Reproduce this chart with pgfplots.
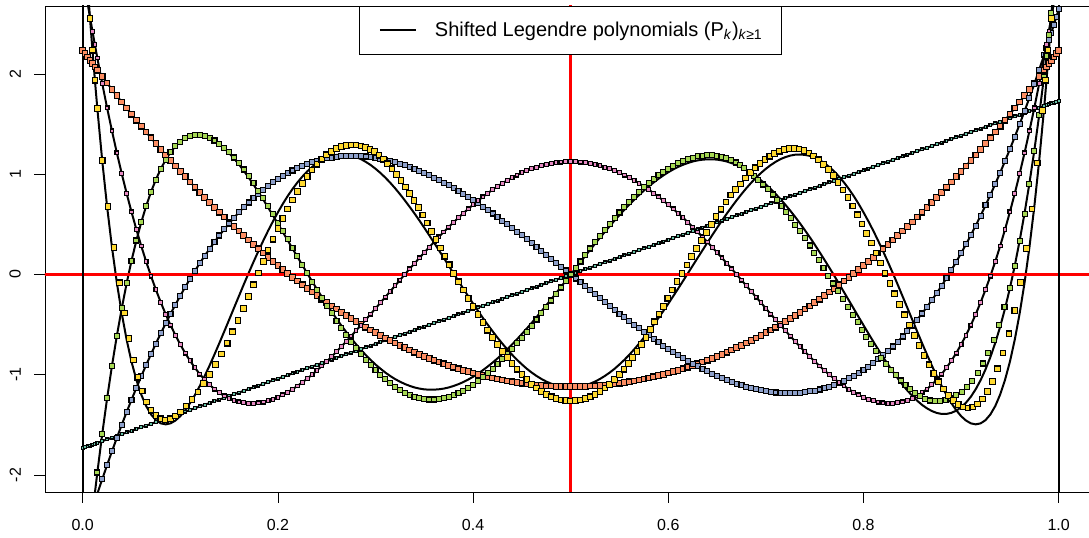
\documentclass[border=0pt]{standalone}
\usepackage{fontspec}
\setmainfont{Liberation Sans}
\usepackage{pgfplots}
\usepackage{pgfplotstable}
\pgfplotsset{compat=1.18}

\definecolor{sTeal}{HTML}{66C2A5}
\definecolor{sOrange}{HTML}{FC8D62}
\definecolor{sBlue}{HTML}{8DA0CB}
\definecolor{sPink}{HTML}{E78AC3}
\definecolor{sGreen}{HTML}{A6D854}
\definecolor{sYellow}{HTML}{FFD92F}

% shifted Legendre polynomials sqrt(2k+1) P_k(2x-1), k = 1..6
\pgfplotstableread{
x p1 p2 p3 p4 p5 p6
0 -1.732 2.236 -2.646 3.000 -3.317 3.606
0.0025 -1.723 2.203 -2.567 2.852 -3.072 3.236
0.005 -1.715 2.169 -2.489 2.707 -2.836 2.885
0.0075 -1.706 2.136 -2.412 2.565 -2.609 2.552
0.01 -1.697 2.103 -2.336 2.427 -2.390 2.237
0.0125 -1.689 2.070 -2.261 2.291 -2.178 1.938
0.015 -1.680 2.038 -2.187 2.159 -1.975 1.655
0.02 -1.663 1.973 -2.042 1.905 -1.591 1.136
0.025 -1.645 1.909 -1.901 1.662 -1.236 0.676
0.03 -1.628 1.846 -1.763 1.432 -0.910 0.271
0.035 -1.611 1.783 -1.630 1.213 -0.611 -0.083
0.04 -1.593 1.721 -1.499 1.006 -0.338 -0.388
0.045 -1.576 1.660 -1.373 0.809 -0.089 -0.650
0.05 -1.559 1.599 -1.250 0.624 0.137 -0.870
0.055 -1.542 1.539 -1.131 0.449 0.339 -1.051
0.06 -1.524 1.479 -1.015 0.284 0.521 -1.198
0.065 -1.507 1.421 -0.903 0.129 0.682 -1.312
0.07 -1.490 1.363 -0.794 -0.016 0.824 -1.396
0.075 -1.472 1.305 -0.689 -0.152 0.947 -1.453
0.08 -1.455 1.249 -0.587 -0.278 1.054 -1.485
0.085 -1.438 1.193 -0.488 -0.396 1.144 -1.495
0.09 -1.420 1.137 -0.393 -0.505 1.219 -1.485
0.095 -1.403 1.083 -0.301 -0.606 1.279 -1.457
0.10 -1.386 1.029 -0.212 -0.699 1.325 -1.413
0.105 -1.368 0.975 -0.126 -0.784 1.359 -1.354
0.11 -1.351 0.923 -0.043 -0.861 1.380 -1.283
0.115 -1.334 0.871 0.036 -0.931 1.391 -1.202
0.12 -1.316 0.819 0.113 -0.994 1.391 -1.111
0.125 -1.299 0.769 0.186 -1.050 1.381 -1.012
0.13 -1.282 0.719 0.256 -1.100 1.362 -0.908
0.135 -1.264 0.669 0.324 -1.143 1.335 -0.798
0.14 -1.247 0.621 0.389 -1.180 1.301 -0.685
0.145 -1.230 0.573 0.450 -1.211 1.259 -0.569
0.15 -1.212 0.525 0.509 -1.236 1.211 -0.452
0.155 -1.195 0.479 0.565 -1.256 1.158 -0.334
0.16 -1.178 0.433 0.619 -1.271 1.099 -0.217
0.165 -1.160 0.388 0.670 -1.280 1.035 -0.100
0.17 -1.143 0.343 0.718 -1.285 0.968 0.014
0.175 -1.126 0.299 0.763 -1.285 0.897 0.125
0.18 -1.109 0.256 0.806 -1.281 0.823 0.233
0.185 -1.091 0.213 0.846 -1.273 0.747 0.337
0.19 -1.074 0.171 0.884 -1.260 0.668 0.437
0.195 -1.057 0.130 0.920 -1.244 0.588 0.531
0.20 -1.039 0.089 0.952 -1.224 0.506 0.620
0.205 -1.022 0.050 0.983 -1.201 0.424 0.704
0.21 -1.005 0.010 1.011 -1.174 0.341 0.782
0.215 -0.987 -0.028 1.037 -1.145 0.258 0.853
0.22 -0.970 -0.066 1.061 -1.112 0.176 0.918
0.225 -0.953 -0.103 1.082 -1.077 0.094 0.976
0.23 -0.935 -0.140 1.102 -1.039 0.012 1.028
0.235 -0.918 -0.176 1.119 -1.000 -0.068 1.072
0.24 -0.901 -0.211 1.134 -0.957 -0.146 1.111
0.245 -0.883 -0.246 1.147 -0.913 -0.223 1.141
0.25 -0.866 -0.280 1.158 -0.867 -0.298 1.165
0.255 -0.849 -0.313 1.166 -0.820 -0.371 1.183
0.26 -0.831 -0.345 1.173 -0.770 -0.441 1.193
0.265 -0.814 -0.377 1.179 -0.720 -0.509 1.197
0.27 -0.797 -0.408 1.182 -0.668 -0.574 1.195
0.275 -0.779 -0.439 1.183 -0.615 -0.636 1.186
0.28 -0.762 -0.469 1.183 -0.561 -0.695 1.171
0.285 -0.745 -0.498 1.181 -0.506 -0.751 1.151
0.29 -0.727 -0.526 1.177 -0.451 -0.803 1.124
0.295 -0.710 -0.554 1.171 -0.395 -0.852 1.092
0.30 -0.693 -0.581 1.164 -0.339 -0.898 1.055
0.305 -0.675 -0.608 1.155 -0.282 -0.939 1.013
0.31 -0.658 -0.634 1.145 -0.226 -0.978 0.967
0.315 -0.641 -0.659 1.133 -0.169 -1.012 0.916
0.32 -0.624 -0.683 1.120 -0.113 -1.043 0.861
0.325 -0.606 -0.707 1.105 -0.056 -1.069 0.802
0.33 -0.589 -0.730 1.089 0.000 -1.092 0.740
0.335 -0.572 -0.753 1.072 0.056 -1.111 0.675
0.34 -0.554 -0.775 1.053 0.111 -1.127 0.608
0.345 -0.537 -0.796 1.033 0.165 -1.138 0.538
0.35 -0.520 -0.816 1.012 0.219 -1.146 0.466
0.355 -0.502 -0.836 0.990 0.272 -1.149 0.392
0.36 -0.485 -0.855 0.966 0.324 -1.149 0.317
0.365 -0.468 -0.874 0.941 0.375 -1.145 0.241
0.37 -0.450 -0.891 0.916 0.424 -1.138 0.165
0.375 -0.433 -0.908 0.889 0.473 -1.127 0.088
0.38 -0.416 -0.925 0.861 0.521 -1.112 0.011
0.385 -0.398 -0.941 0.832 0.567 -1.094 -0.066
0.39 -0.381 -0.956 0.803 0.611 -1.073 -0.142
0.395 -0.364 -0.970 0.772 0.654 -1.048 -0.217
0.40 -0.346 -0.984 0.741 0.696 -1.020 -0.291
0.405 -0.329 -0.997 0.709 0.736 -0.989 -0.363
0.41 -0.312 -1.009 0.676 0.774 -0.955 -0.433
0.415 -0.294 -1.021 0.642 0.811 -0.918 -0.501
0.42 -0.277 -1.032 0.608 0.846 -0.879 -0.567
0.425 -0.260 -1.043 0.573 0.879 -0.837 -0.630
0.43 -0.242 -1.052 0.537 0.910 -0.792 -0.690
0.435 -0.225 -1.061 0.501 0.939 -0.746 -0.747
0.44 -0.208 -1.070 0.465 0.966 -0.697 -0.801
0.445 -0.191 -1.077 0.428 0.991 -0.646 -0.851
0.45 -0.173 -1.084 0.390 1.014 -0.593 -0.897
0.455 -0.156 -1.091 0.352 1.035 -0.539 -0.940
0.46 -0.139 -1.097 0.314 1.054 -0.483 -0.978
0.465 -0.121 -1.102 0.276 1.070 -0.425 -1.012
0.47 -0.104 -1.106 0.237 1.085 -0.367 -1.042
0.475 -0.087 -1.110 0.198 1.097 -0.307 -1.068
0.48 -0.069 -1.113 0.158 1.107 -0.247 -1.089
0.485 -0.052 -1.115 0.119 1.115 -0.186 -1.106
0.49 -0.035 -1.117 0.079 1.121 -0.124 -1.117
0.495 -0.017 -1.118 0.040 1.124 -0.062 -1.124
0.50 0.000 -1.118 0.000 1.125 0.000 -1.127
0.505 0.017 -1.118 -0.040 1.124 0.062 -1.124
0.51 0.035 -1.117 -0.079 1.121 0.124 -1.117
0.515 0.052 -1.115 -0.119 1.115 0.186 -1.106
0.52 0.069 -1.113 -0.158 1.107 0.247 -1.089
0.525 0.087 -1.110 -0.198 1.097 0.307 -1.068
0.53 0.104 -1.106 -0.237 1.085 0.367 -1.042
0.535 0.121 -1.102 -0.276 1.070 0.425 -1.012
0.54 0.139 -1.097 -0.314 1.054 0.483 -0.978
0.545 0.156 -1.091 -0.352 1.035 0.539 -0.940
0.55 0.173 -1.084 -0.390 1.014 0.593 -0.897
0.555 0.191 -1.077 -0.428 0.991 0.646 -0.851
0.56 0.208 -1.070 -0.465 0.966 0.697 -0.801
0.565 0.225 -1.061 -0.501 0.939 0.746 -0.747
0.57 0.242 -1.052 -0.537 0.910 0.792 -0.690
0.575 0.260 -1.043 -0.573 0.879 0.837 -0.630
0.58 0.277 -1.032 -0.608 0.846 0.879 -0.567
0.585 0.294 -1.021 -0.642 0.811 0.918 -0.501
0.59 0.312 -1.009 -0.676 0.774 0.955 -0.433
0.595 0.329 -0.997 -0.709 0.736 0.989 -0.363
0.60 0.346 -0.984 -0.741 0.696 1.020 -0.291
0.605 0.364 -0.970 -0.772 0.654 1.048 -0.217
0.61 0.381 -0.956 -0.803 0.611 1.073 -0.142
0.615 0.398 -0.941 -0.832 0.567 1.094 -0.066
0.62 0.416 -0.925 -0.861 0.521 1.112 0.011
0.625 0.433 -0.908 -0.889 0.473 1.127 0.088
0.63 0.450 -0.891 -0.916 0.424 1.138 0.165
0.635 0.468 -0.874 -0.941 0.375 1.145 0.241
0.64 0.485 -0.855 -0.966 0.324 1.149 0.317
0.645 0.502 -0.836 -0.990 0.272 1.149 0.392
0.65 0.520 -0.816 -1.012 0.219 1.146 0.466
0.655 0.537 -0.796 -1.033 0.165 1.138 0.538
0.66 0.554 -0.775 -1.053 0.111 1.127 0.608
0.665 0.572 -0.753 -1.072 0.056 1.111 0.675
0.67 0.589 -0.730 -1.089 0.000 1.092 0.740
0.675 0.606 -0.707 -1.105 -0.056 1.069 0.802
0.68 0.624 -0.683 -1.120 -0.113 1.043 0.861
0.685 0.641 -0.659 -1.133 -0.169 1.012 0.916
0.69 0.658 -0.634 -1.145 -0.226 0.978 0.967
0.695 0.675 -0.608 -1.155 -0.282 0.939 1.013
0.70 0.693 -0.581 -1.164 -0.339 0.898 1.055
0.705 0.710 -0.554 -1.171 -0.395 0.852 1.092
0.71 0.727 -0.526 -1.177 -0.451 0.803 1.124
0.715 0.745 -0.498 -1.181 -0.506 0.751 1.151
0.72 0.762 -0.469 -1.183 -0.561 0.695 1.171
0.725 0.779 -0.439 -1.183 -0.615 0.636 1.186
0.73 0.797 -0.408 -1.182 -0.668 0.574 1.195
0.735 0.814 -0.377 -1.179 -0.720 0.509 1.197
0.74 0.831 -0.345 -1.173 -0.770 0.441 1.193
0.745 0.849 -0.313 -1.166 -0.820 0.371 1.183
0.75 0.866 -0.280 -1.158 -0.867 0.298 1.165
0.755 0.883 -0.246 -1.147 -0.913 0.223 1.141
0.76 0.901 -0.211 -1.134 -0.957 0.146 1.111
0.765 0.918 -0.176 -1.119 -1.000 0.068 1.072
0.77 0.935 -0.140 -1.102 -1.039 -0.012 1.028
0.775 0.953 -0.103 -1.082 -1.077 -0.094 0.976
0.78 0.970 -0.066 -1.061 -1.112 -0.176 0.918
0.785 0.987 -0.028 -1.037 -1.145 -0.258 0.853
0.79 1.005 0.010 -1.011 -1.174 -0.341 0.782
0.795 1.022 0.050 -0.983 -1.201 -0.424 0.704
0.80 1.039 0.089 -0.952 -1.224 -0.506 0.620
0.805 1.057 0.130 -0.920 -1.244 -0.588 0.531
0.81 1.074 0.171 -0.884 -1.260 -0.668 0.437
0.815 1.091 0.213 -0.846 -1.273 -0.747 0.337
0.82 1.109 0.256 -0.806 -1.281 -0.823 0.233
0.825 1.126 0.299 -0.763 -1.285 -0.897 0.125
0.83 1.143 0.343 -0.718 -1.285 -0.968 0.014
0.835 1.160 0.388 -0.670 -1.280 -1.035 -0.100
0.84 1.178 0.433 -0.619 -1.271 -1.099 -0.217
0.845 1.195 0.479 -0.565 -1.256 -1.158 -0.334
0.85 1.212 0.525 -0.509 -1.236 -1.211 -0.452
0.855 1.230 0.573 -0.450 -1.211 -1.259 -0.569
0.86 1.247 0.621 -0.389 -1.180 -1.301 -0.685
0.865 1.264 0.669 -0.324 -1.143 -1.335 -0.798
0.87 1.282 0.719 -0.256 -1.100 -1.362 -0.908
0.875 1.299 0.769 -0.186 -1.050 -1.381 -1.012
0.88 1.316 0.819 -0.113 -0.994 -1.391 -1.111
0.885 1.334 0.871 -0.036 -0.931 -1.391 -1.202
0.89 1.351 0.923 0.043 -0.861 -1.380 -1.283
0.895 1.368 0.975 0.126 -0.784 -1.359 -1.354
0.90 1.386 1.029 0.212 -0.699 -1.325 -1.413
0.905 1.403 1.083 0.301 -0.606 -1.279 -1.457
0.91 1.420 1.137 0.393 -0.505 -1.219 -1.485
0.915 1.438 1.193 0.488 -0.396 -1.144 -1.495
0.92 1.455 1.249 0.587 -0.278 -1.054 -1.485
0.925 1.472 1.305 0.689 -0.152 -0.947 -1.453
0.93 1.490 1.363 0.794 -0.016 -0.824 -1.396
0.935 1.507 1.421 0.903 0.129 -0.682 -1.312
0.94 1.524 1.479 1.015 0.284 -0.521 -1.198
0.945 1.542 1.539 1.131 0.449 -0.339 -1.051
0.95 1.559 1.599 1.250 0.624 -0.137 -0.870
0.955 1.576 1.660 1.373 0.809 0.089 -0.650
0.96 1.593 1.721 1.499 1.006 0.338 -0.388
0.965 1.611 1.783 1.630 1.213 0.611 -0.083
0.97 1.628 1.846 1.763 1.432 0.910 0.271
0.975 1.645 1.909 1.901 1.662 1.236 0.676
0.98 1.663 1.973 2.042 1.905 1.591 1.136
0.985 1.680 2.038 2.187 2.159 1.975 1.655
0.9875 1.689 2.070 2.261 2.291 2.178 1.938
0.99 1.697 2.103 2.336 2.427 2.390 2.237
0.9925 1.706 2.136 2.412 2.565 2.609 2.552
0.995 1.715 2.169 2.489 2.707 2.836 2.885
0.9975 1.723 2.203 2.567 2.852 3.072 3.236
1 1.732 2.236 2.646 3.000 3.317 3.606
}\exact

% estimated basis function, degree 5 (green points)
\pgfplotstableread{
x y
0 -3.317
0.0025 -3.072
0.005 -2.836
0.0075 -2.609
0.01 -2.390
0.0125 -2.178
0.015 -1.975
0.02 -1.591
0.025 -1.236
0.03 -0.910
0.035 -0.611
0.04 -0.338
0.045 -0.089
0.05 0.137
0.055 0.339
0.06 0.521
0.065 0.682
0.07 0.824
0.075 0.947
0.08 1.054
0.085 1.144
0.09 1.219
0.095 1.279
0.10 1.325
0.105 1.359
0.11 1.380
0.115 1.391
0.12 1.391
0.125 1.381
0.13 1.362
0.135 1.337
0.14 1.305
0.145 1.265
0.15 1.218
0.155 1.167
0.16 1.110
0.165 1.047
0.17 0.981
0.175 0.910
0.18 0.836
0.185 0.760
0.19 0.681
0.195 0.601
0.20 0.518
0.205 0.435
0.21 0.351
0.215 0.266
0.22 0.182
0.225 0.097
0.23 0.012
0.235 -0.071
0.24 -0.152
0.245 -0.232
0.25 -0.311
0.255 -0.388
0.26 -0.462
0.265 -0.534
0.27 -0.604
0.275 -0.670
0.28 -0.734
0.285 -0.795
0.29 -0.851
0.295 -0.905
0.30 -0.956
0.305 -1.002
0.31 -1.046
0.315 -1.085
0.32 -1.121
0.325 -1.152
0.33 -1.179
0.335 -1.202
0.34 -1.221
0.345 -1.234
0.35 -1.243
0.355 -1.247
0.36 -1.247
0.365 -1.242
0.37 -1.235
0.375 -1.222
0.38 -1.204
0.385 -1.183
0.39 -1.159
0.395 -1.131
0.40 -1.100
0.405 -1.065
0.41 -1.027
0.415 -0.986
0.42 -0.943
0.425 -0.897
0.43 -0.847
0.435 -0.797
0.44 -0.743
0.445 -0.687
0.45 -0.630
0.455 -0.571
0.46 -0.511
0.465 -0.449
0.47 -0.387
0.475 -0.323
0.48 -0.259
0.485 -0.195
0.49 -0.130
0.495 -0.065
0.50 0.000
0.505 0.065
0.51 0.130
0.515 0.195
0.52 0.259
0.525 0.322
0.53 0.384
0.535 0.445
0.54 0.504
0.545 0.563
0.55 0.618
0.555 0.674
0.56 0.725
0.565 0.777
0.57 0.822
0.575 0.870
0.58 0.911
0.585 0.952
0.59 0.988
0.595 1.024
0.60 1.056
0.605 1.085
0.61 1.111
0.615 1.132
0.62 1.151
0.625 1.166
0.63 1.178
0.635 1.185
0.64 1.189
0.645 1.189
0.65 1.186
0.6545 1.175
0.659 1.161
0.664 1.140
0.669 1.117
0.6735 1.090
0.678 1.060
0.683 1.024
0.688 0.986
0.692 0.943
0.697 0.898
0.702 0.849
0.707 0.798
0.711 0.744
0.716 0.687
0.721 0.626
0.726 0.564
0.730 0.498
0.735 0.430
0.740 0.361
0.745 0.289
0.7495 0.216
0.754 0.141
0.759 0.065
0.764 -0.011
0.769 -0.090
0.774 -0.168
0.779 -0.245
0.784 -0.323
0.789 -0.400
0.794 -0.476
0.7985 -0.551
0.803 -0.624
0.808 -0.695
0.813 -0.764
0.818 -0.830
0.823 -0.892
0.828 -0.951
0.833 -1.007
0.838 -1.057
0.843 -1.102
0.848 -1.146
0.853 -1.184
0.858 -1.215
0.863 -1.239
0.868 -1.257
0.873 -1.266
0.8785 -1.266
0.884 -1.256
0.8895 -1.237
0.895 -1.206
0.9005 -1.170
0.906 -1.121
0.9115 -1.058
0.917 -0.980
0.9225 -0.888
0.928 -0.779
0.9335 -0.650
0.939 -0.500
0.9445 -0.327
0.95 -0.133
0.955 0.087
0.96 0.331
0.965 0.602
0.97 0.901
0.975 1.230
0.98 1.591
0.985 1.975
0.9875 2.178
0.99 2.390
0.9925 2.609
0.995 2.836
0.9975 3.072
1 3.317
}\estfive

% estimated basis function, degree 6 (yellow points)
\pgfplotstableread{
x y
0 3.606
0.0025 3.236
0.005 2.885
0.0075 2.552
0.01 2.237
0.0125 1.938
0.015 1.655
0.02 1.136
0.026 0.676
0.032 0.271
0.0375 -0.083
0.043 -0.384
0.0475 -0.640
0.052 -0.853
0.0565 -1.025
0.061 -1.162
0.0655 -1.273
0.07 -1.354
0.075 -1.409
0.08 -1.440
0.085 -1.450
0.09 -1.440
0.095 -1.413
0.10 -1.371
0.106 -1.313
0.112 -1.245
0.118 -1.172
0.124 -1.089
0.130 -0.997
0.136 -0.899
0.142 -0.794
0.148 -0.685
0.1535 -0.572
0.159 -0.457
0.1645 -0.339
0.170 -0.221
0.175 -0.103
0.180 0.014
0.185 0.129
0.190 0.242
0.195 0.352
0.200 0.459
0.205 0.559
0.210 0.654
0.215 0.744
0.220 0.829
0.225 0.906
0.230 0.978
0.235 1.042
0.240 1.100
0.245 1.150
0.250 1.194
0.255 1.229
0.260 1.258
0.265 1.278
0.270 1.288
0.275 1.293
0.280 1.291
0.285 1.281
0.290 1.265
0.2945 1.249
0.299 1.225
0.3035 1.190
0.308 1.150
0.3125 1.104
0.317 1.054
0.3215 0.998
0.326 0.938
0.3305 0.874
0.335 0.807
0.3395 0.739
0.344 0.669
0.3485 0.592
0.353 0.513
0.3575 0.431
0.362 0.349
0.3665 0.265
0.371 0.182
0.3755 0.097
0.38 0.012
0.385 -0.073
0.39 -0.156
0.395 -0.239
0.40 -0.320
0.405 -0.401
0.41 -0.481
0.415 -0.556
0.42 -0.629
0.425 -0.699
0.43 -0.766
0.435 -0.829
0.44 -0.889
0.445 -0.945
0.45 -0.996
0.455 -1.048
0.46 -1.095
0.465 -1.133
0.47 -1.167
0.475 -1.196
0.48 -1.220
0.485 -1.239
0.49 -1.251
0.495 -1.259
0.50 -1.262
0.505 -1.259
0.51 -1.251
0.515 -1.239
0.52 -1.220
0.525 -1.196
0.53 -1.167
0.535 -1.133
0.54 -1.095
0.545 -1.048
0.55 -0.996
0.5545 -0.945
0.559 -0.889
0.5635 -0.829
0.568 -0.766
0.5725 -0.699
0.577 -0.629
0.5815 -0.551
0.586 -0.472
0.5905 -0.396
0.595 -0.317
0.5995 -0.237
0.604 -0.155
0.609 -0.072
0.614 0.012
0.619 0.095
0.624 0.177
0.629 0.258
0.634 0.339
0.639 0.419
0.644 0.499
0.649 0.576
0.654 0.651
0.659 0.722
0.664 0.792
0.669 0.850
0.674 0.904
0.679 0.962
0.684 1.015
0.689 1.064
0.694 1.108
0.699 1.147
0.704 1.180
0.709 1.209
0.714 1.230
0.719 1.245
0.724 1.255
0.729 1.257
0.734 1.253
0.739 1.236
0.744 1.212
0.749 1.181
0.754 1.144
0.759 1.099
0.764 1.049
0.769 0.986
0.774 0.918
0.779 0.844
0.784 0.766
0.789 0.683
0.794 0.595
0.7985 0.504
0.803 0.411
0.808 0.313
0.813 0.214
0.8175 0.114
0.822 0.013
0.827 -0.090
0.832 -0.193
0.837 -0.297
0.842 -0.402
0.847 -0.506
0.852 -0.610
0.857 -0.710
0.862 -0.808
0.867 -0.901
0.872 -0.989
0.877 -1.070
0.882 -1.142
0.887 -1.205
0.892 -1.258
0.897 -1.297
0.902 -1.322
0.907 -1.331
0.912 -1.322
0.917 -1.293
0.922 -1.242
0.927 -1.168
0.932 -1.066
0.9375 -0.941
0.943 -0.783
0.949 -0.592
0.955 -0.357
0.961 -0.078
0.967 0.257
0.9725 0.652
0.978 1.113
0.9835 1.638
0.9865 1.938
0.989 2.237
0.9925 2.552
0.995 2.885
0.9975 3.236
1 3.606
}\estsix

\begin{document}
\begin{tikzpicture}
\begin{axis}[
    scale only axis,
    width=1047pt, height=486pt,
    xmin=-0.03863, xmax=1.03412,
    ymin=-2.1696, ymax=2.6783,
    xtick={0,0.2,0.4,0.6,0.8,1},
    xticklabels={0.0,0.2,0.4,0.6,0.8,1.0},
    ytick={-2,-1,0,1,2},
    yticklabels={-2,-1,0,1,2},
    tick pos=left,
    tick align=outside,
    major tick length=11pt,
    tick style={black, line width=0.8pt},
    axis line style={line width=0.8pt},
    ticklabel style={font=\fontsize{16}{19}\selectfont, inner sep=0pt},
    xticklabel style={anchor=north, yshift=-16pt},
    yticklabel style={rotate=90, anchor=south, yshift=13pt},
    legend style={at={(0.5019,1)}, anchor=north, draw=black, line width=0.8pt,
        inner xsep=19pt, inner ysep=16pt, nodes={inner sep=0pt}, column sep=18pt,
        font=\fontsize{20}{24}\selectfont},
]
\addlegendimage{black, line width=2.2pt,
    legend image code/.code={\draw[black, line width=2.2pt] (0pt,0pt) -- (36pt,0pt);}}
\addlegendentry{Shifted Legendre polynomials (P\textsubscript{\textit{k}})\textsubscript{\textit{k}≥1}}

% exact polynomials
\addplot[black, line width=2pt] table[x=x, y=p1] {\exact};
\addplot[black, line width=2pt] table[x=x, y=p2] {\exact};
\addplot[black, line width=2pt] table[x=x, y=p3] {\exact};
\addplot[black, line width=2pt] table[x=x, y=p4] {\exact};
\addplot[black, line width=2pt] table[x=x, y=p5] {\exact};
\addplot[black, line width=2pt] table[x=x, y=p6] {\exact};

% estimated functions as points
\addplot[only marks, mark=square*, mark size=1.4pt,
    mark options={fill=sTeal, draw=black, line width=1.2pt}] table[x=x, y=p1] {\exact};
\addplot[only marks, mark=square*, mark size=2.8pt,
    mark options={fill=sOrange, draw=black, line width=1.1pt}] table[x=x, y=p2] {\exact};
\addplot[only marks, mark=square*, mark size=2.5pt,
    mark options={fill=sBlue, draw=black, line width=1.1pt}] table[x=x, y=p3] {\exact};
\addplot[only marks, mark=square*, mark size=1.9pt,
    mark options={fill=sPink, draw=black, line width=1.1pt}] table[x=x, y=p4] {\exact};
\addplot[only marks, mark=square*, mark size=2.5pt,
    mark options={fill=sGreen, draw=black, line width=1.1pt}] table[x=x, y=y] {\estfive};
\addplot[only marks, mark=square*, mark size=2.8pt,
    mark options={fill=sYellow, draw=black, line width=1.1pt}] table[x=x, y=y] {\estsix};

% reference lines
\addplot[red, line width=2.5pt] coordinates {(0.5,-3) (0.5,3)};
\addplot[red, line width=2.5pt] coordinates {(-0.1,0) (1.1,0)};
\addplot[black, line width=2.2pt] coordinates {(0,-3) (0,3)};
\addplot[black, line width=2.2pt] coordinates {(1,-3) (1,3)};

\coordinate (bl) at (rel axis cs:0,0);
\coordinate (tr) at (rel axis cs:1,1);
\end{axis}
\pgfresetboundingbox
\useasboundingbox ([xshift=-45pt,yshift=-46pt]bl) rectangle ([xshift=-3pt,yshift=6pt]tr);
\end{tikzpicture}
\end{document}
